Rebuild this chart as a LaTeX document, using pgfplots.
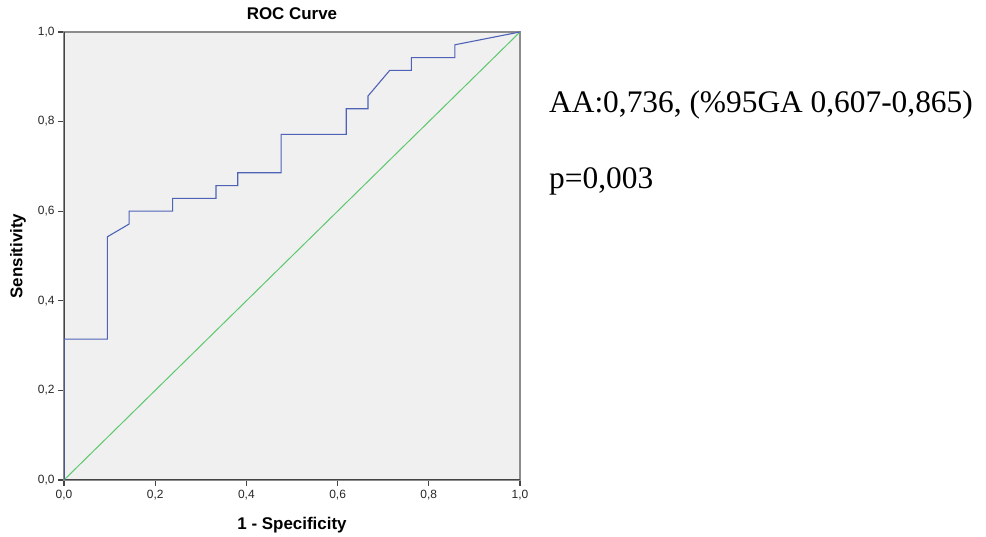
\documentclass[border=0pt]{standalone}
\usepackage{fontspec}
\setmainfont{Liberation Serif}
\setsansfont{Liberation Sans}
\usepackage{pgfplots}
\pgfplotsset{compat=1.18}

\definecolor{rocblue}{HTML}{4F63B6}
\definecolor{refgreen}{HTML}{5DC86E}
\definecolor{plotbg}{HTML}{F0F0F0}
\definecolor{framegray}{HTML}{8C8C8C}
\definecolor{axisdark}{HTML}{444444}

\begin{document}
\begin{tikzpicture}[x=1bp,y=1bp]
\path[use as bounding box] (0,0) rectangle (986,537);
\begin{axis}[
  at={(64bp,57bp)}, anchor=south west,
  scale only axis, width=456bp, height=448bp,
  xmin=0, xmax=1, ymin=0, ymax=1,
  axis background/.style={fill=plotbg},
  axis line style={draw=framegray, line width=1.2bp},
  xtick={0,0.2,...,1.0}, ytick={0,0.2,...,1.0},
  xtick pos=lower, ytick pos=left,
  tick align=outside, major tick length=6bp,
  every tick/.style={draw=axisdark, line width=1.2bp},
  /pgf/number format/.cd, fixed, fixed zerofill, precision=1, use comma, assume math mode=true,
  /pgfplots/.cd,
  tick label style={font=\sffamily\fontsize{12}{14}\selectfont, text=black!85},
  xticklabel style={yshift=-1bp},
  title={ROC Curve},
  title style={font=\sffamily\bfseries\fontsize{17}{20}\selectfont,
    at={(axis description cs:0.5,1.027)}, anchor=center},
  xlabel={1 - Specificity},
  xlabel style={font=\sffamily\bfseries\fontsize{17}{20}\selectfont,
    at={(axis description cs:0.5,-0.1004)}, anchor=center},
  ylabel={Sensitivity},
  ylabel style={font=\sffamily\bfseries\fontsize{17}{20}\selectfont,
    at={(axis description cs:-0.1009,0.5)}, anchor=center},
]
% darker left and bottom axes over the grey frame
\draw[axisdark, line width=1.6bp] (rel axis cs:0,0) -- (rel axis cs:0,1);
\draw[axisdark, line width=1.6bp] (rel axis cs:0,0) -- (rel axis cs:1,0);

% reference line
\addplot[refgreen, line width=1bp] coordinates {(0,0) (1,1)};

% ROC curve (21 negatives, 35 positives)
\addplot[rocblue, line width=1.1bp] coordinates {
  (0,0) (0,0.3143)
  (0.0952,0.3143) (0.0952,0.5429)
  (0.1429,0.5714) (0.1429,0.6000)
  (0.2381,0.6000) (0.2381,0.6286)
  (0.3333,0.6286) (0.3333,0.6571)
  (0.3810,0.6571) (0.3810,0.6857)
  (0.4762,0.6857) (0.4762,0.7714)
  (0.6190,0.7714) (0.6190,0.8286)
  (0.6667,0.8286) (0.6667,0.8571)
  (0.7143,0.9143) (0.7619,0.9143)
  (0.7619,0.9429) (0.8571,0.9429)
  (0.8571,0.9714) (1,1)
};
\end{axis}

\node[anchor=base west, inner sep=0pt, font=\fontsize{31.5}{38}\selectfont] at (549,424) {AA:0,736, (\%95GA 0,607-0,865)};
\node[anchor=base west, inner sep=0pt, font=\fontsize{31.5}{38}\selectfont] at (549,348) {p=0,003};
\end{tikzpicture}
\end{document}
